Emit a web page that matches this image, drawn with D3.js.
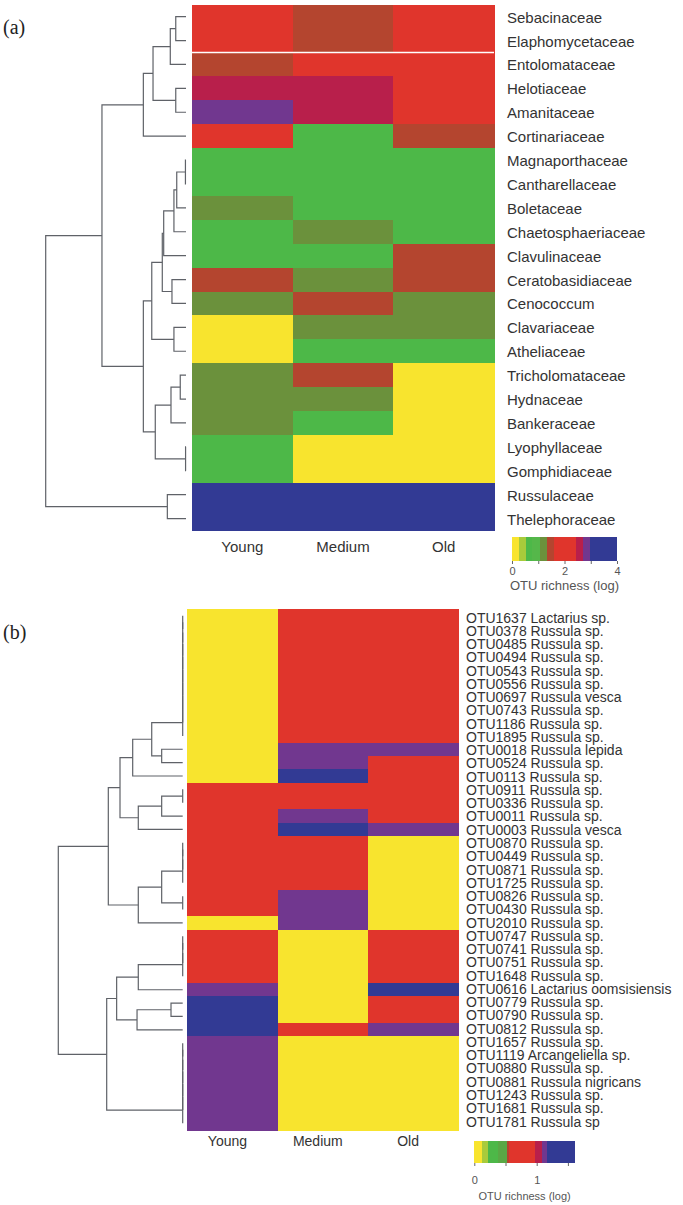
<!DOCTYPE html>
<html><head><meta charset="utf-8">
<script src="https://cdn.jsdelivr.net/npm/d3@7"></script>
<style>
body{margin:0;background:#fff}
svg{display:block}
</style>
</head><body>
<svg id="c" width="683" height="1205" font-family="'Liberation Sans',Arial,sans-serif"></svg>
<script>
// ---------- DATA ----------
const stages = ["Young", "Medium", "Old"];

// Panel (a): families
const familiesA = ["Sebacinaceae","Elaphomycetaceae","Entolomataceae","Helotiaceae","Amanitaceae",
  "Cortinariaceae","Magnaporthaceae","Cantharellaceae","Boletaceae","Chaetosphaeriaceae",
  "Clavulinaceae","Ceratobasidiaceae","Cenococcum","Clavariaceae","Atheliaceae",
  "Tricholomataceae","Hydnaceae","Bankeraceae","Lyophyllaceae","Gomphidiaceae",
  "Russulaceae","Thelephoraceae"];
// OTU richness (log) estimated from the colour classes
const youngA  = [2.0,2.0,1.5,2.55,2.8,2.0,0.7,0.7,1.2,0.7,0.7,1.5,1.2,0.1,0.1,1.2,1.2,1.2,0.7,0.7,3.5,3.5];
const mediumA = [1.5,1.5,2.0,2.55,2.55,0.7,0.7,0.7,0.7,1.2,0.7,1.2,1.5,1.2,0.7,1.5,1.2,0.7,0.1,0.1,3.5,3.5];
const oldA    = [2.0,2.0,2.0,2.0,2.0,1.5,0.7,0.7,0.7,0.7,1.5,1.5,1.2,1.2,0.7,0.1,0.1,0.1,0.1,0.1,3.5,3.5];
// hclust-style merges: [left, right, height]; negative = leaf (1-based), positive = earlier merge
const mergesA = [
  [-1,-2,0.073],[1,-3,0.112],[-4,-5,0.073],[2,3,0.235],[4,-6,0.304],
  [-7,-8,0.004],[6,-9,0.066],[7,-10,0.086],[8,-11,0.159],[-12,-13,0.10],
  [9,10,0.169],[-14,-15,0.086],[11,12,0.244],[-16,-17,0.041],[14,-18,0.107],
  [-19,-20,0.003],[15,16,0.219],[13,17,0.304],[5,18,0.599],[-21,-22,0.133],
  [19,20,1.0]
];
const legendBreaksA = [0,0.27,0.52,0.78,1.06,1.34,1.6,2.44,2.7,2.98,4];
const legendColorsA = ["#f8e42e","#a8cb3b","#4db848","#55b74a","#6b913c","#b4452f","#e0352c","#b81f4b","#71378f","#323a94"];
const legendTicksA = [0,1,2,3,4];
const legendTickLabelsA = ["0","","2","","4"];

// Panel (b): OTUs
const otusB = ["OTU1637 Lactarius sp.","OTU0378 Russula sp.","OTU0485 Russula sp.","OTU0494 Russula sp.",
  "OTU0543 Russula sp.","OTU0556 Russula sp.","OTU0697 Russula vesca","OTU0743 Russula sp.",
  "OTU1186 Russula sp.","OTU1895 Russula sp.","OTU0018 Russula lepida","OTU0524 Russula sp.",
  "OTU0113 Russula sp.","OTU0911 Russula sp.","OTU0336 Russula sp.","OTU0011 Russula sp.",
  "OTU0003 Russula vesca","OTU0870 Russula sp.","OTU0449 Russula sp.","OTU0871 Russula sp.",
  "OTU1725 Russula sp.","OTU0826 Russula sp.","OTU0430 Russula sp.","OTU2010 Russula sp.",
  "OTU0747 Russula sp.","OTU0741 Russula sp.","OTU0751 Russula sp.","OTU1648 Russula sp.",
  "OTU0616 Lactarius oomsisiensis","OTU0779 Russula sp.","OTU0790 Russula sp.","OTU0812 Russula sp.",
  "OTU1657 Russula sp.","OTU1119 Arcangeliella sp.","OTU0880 Russula sp.","OTU0881 Russula nigricans",
  "OTU1243 Russula sp.","OTU1681 Russula sp.","OTU1781 Russula sp"];
const youngB  = [0.05,0.05,0.05,0.05,0.05,0.05,0.05,0.05,0.05,0.05,0.05,0.05,0.05,
  0.8,0.8,0.8,0.8,0.8,0.8,0.8,0.8,0.8,0.8,0.05,0.8,0.8,0.8,0.8,1.12,1.4,1.4,1.4,
  1.12,1.12,1.12,1.12,1.12,1.12,1.12];
const mediumB = [0.8,0.8,0.8,0.8,0.8,0.8,0.8,0.8,0.8,0.8,1.12,1.12,1.4,0.8,0.8,1.12,1.4,
  0.8,0.8,0.8,0.8,1.12,1.12,1.12,0.05,0.05,0.05,0.05,0.05,0.05,0.05,0.8,
  0.05,0.05,0.05,0.05,0.05,0.05,0.05];
const oldB    = [0.8,0.8,0.8,0.8,0.8,0.8,0.8,0.8,0.8,0.8,1.12,0.8,0.8,0.8,0.8,0.8,1.12,
  0.05,0.05,0.05,0.05,0.05,0.05,0.05,0.8,0.8,0.8,0.8,1.4,0.8,0.8,1.12,
  0.05,0.05,0.05,0.05,0.05,0.05,0.05];
const mergesB = [
  [-1,-2,0],[1,-3,0],[2,-4,0],[3,-5,0],[4,-6,0],[5,-7,0],[6,-8,0],[7,-9,0],[8,-10,0],
  [-11,-12,0.169],[9,10,0.249],[11,-13,0.402],
  [-14,-15,0],[13,-16,0.169],[14,-17,0.357],[12,15,0.504],
  [-18,-19,0],[17,-20,0],[18,-21,0],[-22,-23,0],[19,20,0.169],[21,-24,0.357],[16,22,0.598],
  [-25,-26,0],[24,-27,0],[25,-28,0],[26,-29,0.357],[-30,-31,0.094],[28,-32,0.367],[27,29,0.531],
  [-33,-34,0],[31,-35,0],[32,-36,0],[33,-37,0],[34,-38,0],[35,-39,0],
  [30,36,0.611],[23,37,1.0]
];
const legendBreaksB = [0,0.118,0.225,0.385,0.52,0.56,0.97,1.08,1.17,1.61];
const legendColorsB = ["#f8e42e","#a8cb3b","#4db848","#5aa845","#b4452f","#e0352c","#b81f4b","#71378f","#323a94"];
const legendTicksB = [0,0.5,1,1.5];
const legendTickLabelsB = ["0","","1",""];

// ---------- DRAW ----------
const svg = d3.select("#c");
const lineCol = "#5f6268";
const textCol = "#333";

function panel(cfg) {
  const g = svg.append("g");
  const rows = cfg.rows;
  const y = d3.scaleBand().domain(rows).range(cfg.yRange).paddingInner(0).paddingOuter(0);
  const x = d3.scaleBand().domain(stages).range(cfg.xRange);
  const color = d3.scaleThreshold().domain(cfg.breaks.slice(1, -1)).range(cfg.colors);
  const cells = [];
  rows.forEach((r, i) => {
    cfg.series.forEach((s, j) => cells.push({row: r, col: stages[j], v: s[i]}));
  });
  g.append("g").selectAll("rect").data(cells).join("rect")
    .attr("x", d => x(d.col)).attr("y", d => y(d.row))
    .attr("width", x.bandwidth() + 0.5).attr("height", y.bandwidth() + 0.5)
    .attr("fill", d => color(d.v)).attr("shape-rendering", "crispEdges");

  // row labels
  const ly = cfg.labelY ? cfg.labelY(y) : (r => y(r) + y.bandwidth() / 2 + cfg.labelDy);
  g.append("g").selectAll("text").data(rows).join("text")
    .attr("x", cfg.labelX).attr("y", r => ly(r))
    .attr("font-size", cfg.labelSize).attr("fill", textCol).text(r => r);

  // column labels
  g.append("g").selectAll("text").data(stages).join("text")
    .attr("x", s => x(s) + x.bandwidth() / 2 + cfg.colLabelDx)
    .attr("y", cfg.colLabelY).attr("text-anchor", "middle")
    .attr("font-size", cfg.colLabelSize).attr("fill", textCol).text(s => s);

  // dendrogram
  const hx = d3.scaleLinear().domain([0, 1]).range(cfg.dendroRange);
  const nodes = [];
  const getNode = k => k < 0
    ? {y: y(rows[-k - 1]) + y.bandwidth() / 2, h: 0}
    : nodes[k - 1];
  const paths = [];
  cfg.merges.forEach(([a, b, h]) => {
    const A = getNode(a), B = getNode(b);
    paths.push(`M${hx(A.h)},${A.y}H${hx(h)}V${B.y}H${hx(B.h)}`);
    nodes.push({y: (A.y + B.y) / 2, h: h});
  });
  g.append("g").selectAll("path").data(paths).join("path")
    .attr("d", d => d).attr("fill", "none").attr("stroke", lineCol).attr("stroke-width", 1.2);

  // legend
  const lx = d3.scaleLinear().domain(cfg.legendDomain).range(cfg.legendXRange);
  const bins = d3.range(cfg.colors.length).map(i => ({a: cfg.breaks[i], b: cfg.breaks[i + 1], c: cfg.colors[i]}));
  const lg = g.append("g");
  lg.selectAll("rect").data(bins).join("rect")
    .attr("x", d => lx(d.a)).attr("y", cfg.legendY)
    .attr("width", d => lx(d.b) - lx(d.a) + 0.3).attr("height", cfg.legendH)
    .attr("fill", d => d.c).attr("shape-rendering", "crispEdges");
  const ax = d3.axisBottom(lx).tickValues(cfg.legendTicks).tickSize(3).tickPadding(cfg.tickPad)
    .tickFormat((d, i) => cfg.legendTickLabels[i]);
  const axg = lg.append("g").attr("transform", `translate(0,${cfg.legendY + cfg.legendH})`).call(ax);
  axg.attr("font-family", null);
  axg.select(".domain").remove();
  axg.selectAll(".tick line").attr("stroke", "#666");
  axg.selectAll(".tick text").attr("font-size", cfg.tickSize).attr("fill", "#555")
    .attr("dy", "0.6em");
  lg.append("text").attr("x", (cfg.legendXRange[0] + lx(cfg.breaks[cfg.breaks.length - 1])) / 2)
    .attr("y", cfg.legendTitleY).attr("text-anchor", "middle")
    .attr("font-size", cfg.legendTitleSize).attr("fill", "#555").text("OTU richness (log)");

  // panel tag
  g.append("text").attr("x", 3).attr("y", cfg.tagY)
    .style("font-family", "'Liberation Serif','Times New Roman',serif")
    .attr("font-size", 20).attr("fill", "#222").text(cfg.tag);
  return {g, x, y};
}

const pa = panel({
  rows: familiesA, series: [youngA, mediumA, oldA], merges: mergesA,
  yRange: [4.7, 530.5], xRange: [192, 494], dendroRange: [186, 45.7],
  breaks: legendBreaksA, colors: legendColorsA,
  labelX: 507, labelDy: 6, labelSize: 15,
  colLabelY: 552, colLabelSize: 15, colLabelDx: 0,
  legendDomain: [0, 4], legendXRange: [512, 617], legendY: 537, legendH: 24,
  legendTicks: legendTicksA, legendTickLabels: legendTickLabelsA, tickSize: 11, tickPad: 4,
  legendTitleY: 590, legendTitleSize: 13,
  tag: "(a)", tagY: 34
});
// white separator line in panel (a)
pa.g.append("line")
  .attr("x1", pa.x.range()[0]).attr("x2", pa.x.range()[1])
  .attr("y1", pa.y(familiesA[2])).attr("y2", pa.y(familiesA[2]))
  .attr("stroke", "#fff").attr("stroke-width", 1.5);

const labelScaleB = d3.scalePoint().domain(otusB).range([622.5, 1126.5]);
panel({
  rows: otusB, series: [youngB, mediumB, oldB], merges: mergesB,
  yRange: [609, 1130], xRange: [187.3, 458.3], dendroRange: [182.7, 58.3],
  breaks: legendBreaksB, colors: legendColorsB,
  labelX: 466, labelY: () => (r => labelScaleB(r)), labelSize: 14,
  colLabelY: 1146, colLabelSize: 14, colLabelDx: -5,
  legendDomain: [0, 1], legendXRange: [474.3, 536.7], legendY: 1141, legendH: 22,
  legendTicks: legendTicksB, legendTickLabels: legendTickLabelsB, tickSize: 11, tickPad: 11,
  legendTitleY: 1200, legendTitleSize: 11,
  tag: "(b)", tagY: 639
});
</script>
</body></html>
